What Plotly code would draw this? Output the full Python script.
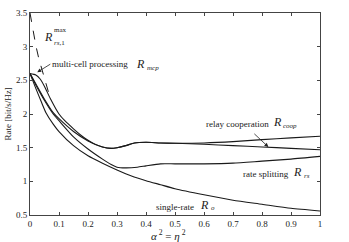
import plotly.graph_objects as go

# ---- data ----
x_max = [0, 0.01, 0.02, 0.03, 0.04, 0.05, 0.06, 0.066]
y_max = [3.5, 3.24, 3.02, 2.83, 2.67, 2.53, 2.38, 2.29]

x_mcp = [0, .02, .035, .05, .07, .1, .12, .15, .18, .2, .22, .25, .28, .3, .33, .36, .4, .45, .5, .6, .7, .8, .9, 1]
y_mcp = [2.6, 2.58, 2.52, 2.41, 2.23, 2.0, 1.9, 1.78, 1.67, 1.61, 1.56, 1.51, 1.49, 1.5, 1.53, 1.57, 1.58, 1.57, 1.565, 1.57, 1.59, 1.62, 1.645, 1.67]

x_coop = [0, .02, .05, .08, .1, .15, .2, .25, .28, .3, .33, .36, .4, .45, .5, .6, .7, .8, .9, 1]
y_coop = [2.6, 2.45, 2.22, 2.02, 1.93, 1.74, 1.6, 1.51, 1.49, 1.5, 1.53, 1.57, 1.58, 1.57, 1.565, 1.55, 1.53, 1.51, 1.49, 1.47]

x_rs = [0, .02, .05, .08, .1, .15, .2, .25, .28, .3, .33, .37, .4, .45, .5, .6, .7, .8, .9, 1]
y_rs = [2.6, 2.43, 2.2, 2.0, 1.9, 1.66, 1.48, 1.33, 1.25, 1.21, 1.2, 1.21, 1.23, 1.26, 1.26, 1.26, 1.27, 1.3, 1.33, 1.37]

x_o = [0, .02, .04, .055, .08, .1, .15, .2, .25, .3, .35, .4, .45, .5, .6, .7, .8, .9, 1]
y_o = [2.6, 2.38, 2.17, 2.02, 1.85, 1.74, 1.53, 1.38, 1.27, 1.17, 1.08, 1.01, 0.95, 0.89, 0.8, 0.72, 0.66, 0.6, 0.56]

x_ticks = [0, 0.1, 0.2, 0.3, 0.4, 0.5, 0.6, 0.7, 0.8, 0.9, 1]
x_labels = ["0", "0.1", "0.2", "0.3", "0.4", "0.5", "0.6", "0.7", "0.8", "0.9", "1"]
y_ticks = [0.5, 1, 1.5, 2, 2.5, 3, 3.5]
y_labels = ["0.5", "1", "1.5", "2", "2.5", "3", "3.5"]

FONT = "Liberation Serif"
LC = "#1a1a1a"

fig = go.Figure()
line = dict(color=LC, width=1.1)
fig.add_trace(go.Scatter(x=x_max, y=y_max, mode="lines", line=dict(color=LC, width=1, dash="dash")))
fig.add_trace(go.Scatter(x=x_mcp, y=y_mcp, mode="lines", line=dict(line, shape="spline", smoothing=0.6)))
fig.add_trace(go.Scatter(x=x_coop, y=y_coop, mode="lines", line=dict(line, shape="spline", smoothing=0.6)))
fig.add_trace(go.Scatter(x=x_rs, y=y_rs, mode="lines", line=dict(line, shape="spline", smoothing=0.6)))
fig.add_trace(go.Scatter(x=x_o, y=y_o, mode="lines", line=dict(line, shape="spline", smoothing=0.6)))

ann = []
def txt(x, y, t, size=9, xanchor="center"):
    ann.append(dict(x=x, y=y, xref="x", yref="y", text=t, showarrow=False,
                    font=dict(family=FONT, size=size, color="#222"), xanchor=xanchor, yanchor="middle"))

# R_rs,1^max
txt(0.042, 3.14, "<i>R</i>", size=12, xanchor="left")
txt(0.075, 3.245, "max", size=7, xanchor="left")
txt(0.075, 3.06, "<i>rs</i>,1", size=7, xanchor="left")
# multi-cell processing
ann.append(dict(x=0.025, y=2.62, ax=0.07, ay=2.74, xref="x", yref="y", axref="x", ayref="y",
                text="multi-cell processing", showarrow=True, arrowhead=2, arrowsize=1, arrowwidth=0.8,
                arrowcolor="#222", xanchor="left", yanchor="middle",
                font=dict(family=FONT, size=9, color="#222")))
txt(0.36, 2.74, "<i>R</i>", size=12, xanchor="left")
txt(0.395, 2.68, "<i>mcp</i>", size=7, xanchor="left")
# relay cooperation
txt(0.714, 1.85, "relay cooperation", size=9)
txt(0.83, 1.88, "<i>R</i>", size=12, xanchor="left")
txt(0.865, 1.82, "<i>coop</i>", size=7, xanchor="left")
ann.append(dict(x=0.822, y=1.51, ax=0.765, ay=1.74, xref="x", yref="y", axref="x", ayref="y",
                text=" ", showarrow=True, arrowhead=2, arrowsize=1, arrowwidth=0.8, arrowcolor="#222",
                font=dict(family=FONT, size=9)))
# rate splitting
txt(0.815, 1.11, "rate splitting", size=9)
txt(0.9, 1.14, "<i>R</i>", size=12, xanchor="left")
txt(0.937, 1.08, "<i>rs</i>", size=7, xanchor="left")
# single-rate
txt(0.50, 0.62, "single-rate", size=9)
txt(0.58, 0.655, "<i>R</i>", size=12, xanchor="left")
txt(0.616, 0.6, "<i>o</i>", size=7, xanchor="left")
# x-axis title
ann.append(dict(x=0.478, y=-0.097, xref="paper", yref="paper", showarrow=False,
                text="<i>α</i><sup> 2</sup> = <i>η</i><sup> 2</sup>", xanchor="center", yanchor="middle",
                font=dict(family=FONT, size=11, color="#222")))

fig.update_layout(
    width=349, height=242,
    margin=dict(l=29, r=29, t=8, b=27),
    paper_bgcolor="white", plot_bgcolor="white",
    showlegend=False,
    font=dict(family=FONT, size=9, color="#222"),
    annotations=ann,
    xaxis=dict(range=[0, 1], tickvals=x_ticks, ticktext=x_labels, ticks="inside", ticklen=3,
               showline=True, linecolor="#444", linewidth=1, mirror="ticks", showgrid=False,
               zeroline=False, tickfont=dict(family=FONT, size=9, color="#222")),
    yaxis=dict(range=[0.5, 3.5], tickvals=y_ticks, ticktext=y_labels, ticks="inside", ticklen=3,
               showline=True, linecolor="#444", linewidth=1, mirror="ticks", showgrid=False,
               zeroline=False, tickfont=dict(family=FONT, size=9, color="#222"),
               title=dict(text="Rate [bit/s/Hz]", standoff=2,
                          font=dict(family=FONT, size=9, color="#222"))),
)
fig.write_html("out.html", config={"displayModeBar": False},
               post_script="document.body.style.margin='0';document.body.style.overflow='hidden';")
